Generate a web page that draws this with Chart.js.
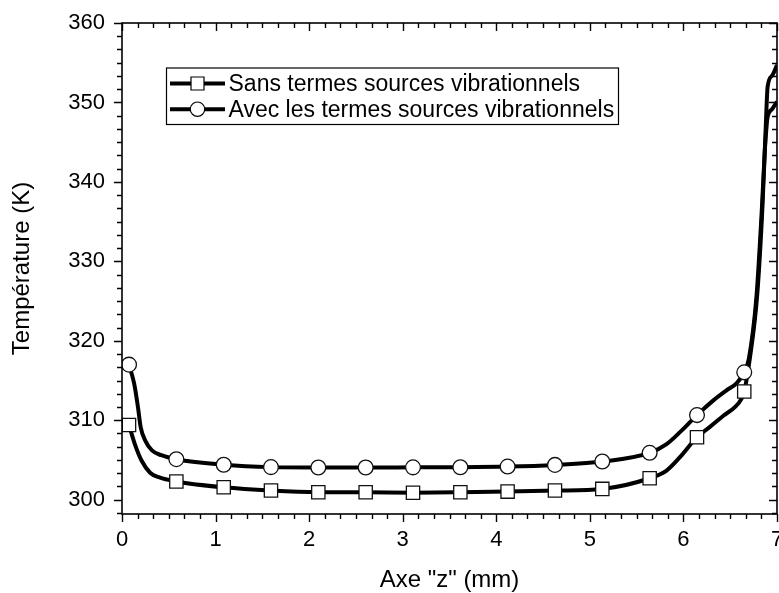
<!DOCTYPE html>
<html>
<head>
<meta charset="utf-8">
<script src="https://cdn.jsdelivr.net/npm/chart.js@4.4.0/dist/chart.umd.min.js"></script>
<style>
  body { margin: 0; background: #fff; }
  #wrap { width: 779px; height: 593px; }
</style>
</head>
<body>
<div id="wrap"><canvas id="tempChart" width="779" height="593"></canvas></div>
<script>
// Marker positions (z in mm)
const markerZ = [0.075, 0.581, 1.087, 1.592, 2.098, 2.604, 3.110, 3.616, 4.121, 4.627, 5.133, 5.639, 6.145, 6.650];
const sansMarkT = [309.4, 302.3, 301.56, 301.15, 300.94, 300.93, 300.88, 300.93, 301.02, 301.15, 301.36, 302.7, 307.87, 313.62];
const avecMarkT = [317.0, 305.1, 304.4, 304.1, 304.05, 304.05, 304.07, 304.09, 304.17, 304.38, 304.8, 305.9, 310.65, 316.03];

// Curve points (markers plus the bends in between)
const sansZ = [0.075, 0.14, 0.21, 0.30, 0.40, 0.581, 1.087, 1.592, 2.098, 2.604, 3.110, 3.616, 4.121, 4.627, 5.133, 5.639, 5.82, 5.963, 6.145, 6.28, 6.43, 6.55, 6.62, 6.650, 6.71, 6.79, 6.845, 6.88, 6.90, 6.95, 7.0];
const sansT = [309.4, 306.9, 304.9, 303.4, 302.8, 302.3, 301.56, 301.15, 300.94, 300.93, 300.88, 300.93, 301.02, 301.15, 301.36, 302.7, 303.67, 305.35, 307.87, 309.13, 310.6, 311.65, 312.7, 313.62, 317.8, 326.0, 337.0, 347.0, 352.0, 353.4, 354.7];
const avecZ = [0.075, 0.13, 0.17, 0.20, 0.25, 0.32, 0.42, 0.581, 1.087, 1.592, 2.098, 2.604, 3.110, 3.616, 4.121, 4.627, 5.133, 5.639, 5.82, 5.963, 6.145, 6.32, 6.46, 6.57, 6.650, 6.70, 6.78, 6.84, 6.87, 6.89, 6.90, 6.95, 7.0];
const avecT = [317.0, 314.6, 311.7, 309.1, 307.4, 306.2, 305.6, 305.1, 304.4, 304.1, 304.05, 304.05, 304.07, 304.09, 304.17, 304.38, 304.8, 305.9, 307.0, 308.5, 310.65, 312.5, 313.76, 314.68, 316.03, 317.8, 325.5, 337.0, 344.0, 347.2, 348.2, 349.2, 350.1];

const xTicks = [0, 1, 2, 3, 4, 5, 6, 7];
const yTicks = [300, 310, 320, 330, 340, 350, 360];
const xMin = 0, xMax = 7, yMin = 298.2, yMax = 360;

const FONT = "'Liberation Sans', Arial, sans-serif";

function pts(xs, ys) {
    return xs.map((v, i) => ({ x: v, y: ys[i] }));
}

// Frame on all four sides, outward ticks bottom/left, inward ticks top/right
const frameTicks = {
    id: 'frameTicks',
    afterDraw(chart) {
        const { ctx, chartArea: a, scales: { x, y } } = chart;
        ctx.save();
        ctx.strokeStyle = '#000';
        ctx.lineWidth = 1.6;
        ctx.strokeRect(a.left, a.top, a.right - a.left, a.bottom - a.top);
        ctx.lineWidth = 1.4;
        ctx.beginPath();
        for (let i = 0; i < xTicks.length; i++) {
            for (let k = 0; k < 6; k++) {
                const v = xTicks[i] + k / 6;
                if (v > xMax + 1e-6) break;
                const px = Math.round(x.getPixelForValue(v)) + 0.5;
                const len = k === 0 ? 8 : 5;
                ctx.moveTo(px, a.bottom); ctx.lineTo(px, a.bottom + len);
                ctx.moveTo(px, a.top); ctx.lineTo(px, a.top + len);
            }
        }
        for (let j = 0; ; j++) {
            const v = yMax - j * 10 / 6;
            if (v < yMin - 1e-6) break;
            const py = Math.round(y.getPixelForValue(v)) + 0.5;
            const len = j % 6 === 0 ? 8 : 5;
            ctx.moveTo(a.left, py); ctx.lineTo(a.left - len, py);
            ctx.moveTo(a.right, py); ctx.lineTo(a.right - len, py);
        }
        ctx.stroke();
        ctx.restore();
    }
};

// Boxed legend inside the plot
const boxLegend = {
    id: 'boxLegend',
    afterDraw(chart) {
        const ctx = chart.ctx;
        const sets = chart.data.datasets.filter(d => d.label);
        const left = 166, top = 67.5, w = 452, h = 56.5;
        ctx.save();
        ctx.fillStyle = '#fff';
        ctx.fillRect(left, top, w, h);
        ctx.strokeStyle = '#000';
        ctx.lineWidth = 1.2;
        ctx.strokeRect(left + 0.5, top + 0.5, w, h);
        sets.forEach((ds, i) => {
            const cy = 83.5 + i * 25.7;
            ctx.lineWidth = 4;
            ctx.beginPath();
            ctx.moveTo(170, cy); ctx.lineTo(225, cy);
            ctx.stroke();
            ctx.lineWidth = 1.2;
            ctx.fillStyle = '#fff';
            ctx.beginPath();
            if (ds.pointStyle === 'rect') {
                ctx.rect(197.5 - 6.5, cy - 6.5, 13, 13);
            } else {
                ctx.arc(197.5, cy, 7.2, 0, Math.PI * 2);
            }
            ctx.fill();
            ctx.stroke();
            ctx.fillStyle = '#000';
            ctx.font = '23px ' + FONT;
            ctx.textAlign = 'left';
            ctx.textBaseline = 'middle';
            ctx.fillText(ds.label, 228.5, cy + 1);
        });
        ctx.restore();
    }
};

const lineStyle = {
    borderColor: '#000',
    borderWidth: 4,
    pointRadius: 0,
    cubicInterpolationMode: 'monotone',
    fill: false,
    order: 2
};

const markStyle = {
    showLine: false,
    borderColor: '#111',
    backgroundColor: '#fff',
    pointBorderWidth: 1.3,
    order: 0
};

new Chart(document.getElementById('tempChart'), {
    type: 'line',
    data: {
        datasets: [
            Object.assign({ data: pts(sansZ, sansT) }, lineStyle),
            Object.assign({ data: pts(avecZ, avecT) }, lineStyle),
            Object.assign({ label: 'Sans termes sources vibrationnels', data: pts(markerZ, sansMarkT), pointStyle: 'rect', pointRadius: 9.4 }, markStyle),
            Object.assign({ label: 'Avec les termes sources vibrationnels', data: pts(markerZ, avecMarkT), pointStyle: 'circle', pointRadius: 7.4 }, markStyle)
        ]
    },
    options: {
        responsive: false,
        animation: false,
        layout: { autoPadding: false, padding: { top: 23, right: 2, left: 0, bottom: 0 } },
        plugins: {
            legend: { display: false },
            tooltip: { enabled: false }
        },
        scales: {
            x: {
                type: 'linear',
                min: xMin,
                max: xMax,
                grid: { display: false, drawTicks: false },
                border: { display: false },
                afterBuildTicks: s => { s.ticks = xTicks.map(v => ({ value: v })); },
                afterFit: s => { s.height = 79; s.paddingLeft = 0; s.paddingRight = 0; },
                ticks: { color: '#000', padding: 13, maxRotation: 0, font: { family: FONT, size: 22 } },
                title: { display: true, text: 'Axe "z" (mm)', color: '#000', padding: { top: 0, bottom: -2 }, font: { family: FONT, size: 24 } }
            },
            y: {
                min: yMin,
                max: yMax,
                grid: { display: false, drawTicks: false },
                border: { display: false },
                afterBuildTicks: s => { s.ticks = yTicks.map(v => ({ value: v })); },
                afterFit: s => { s.width = 122; s.paddingTop = 0; s.paddingBottom = 0; },
                ticks: { color: '#000', padding: 17, font: { family: FONT, size: 22 } },
                title: { display: true, text: 'Température (K)', color: '#000', padding: { top: 8, bottom: 0 }, font: { family: FONT, size: 24 } }
            }
        }
    },
    plugins: [frameTicks, boxLegend]
});
</script>
</body>
</html>
